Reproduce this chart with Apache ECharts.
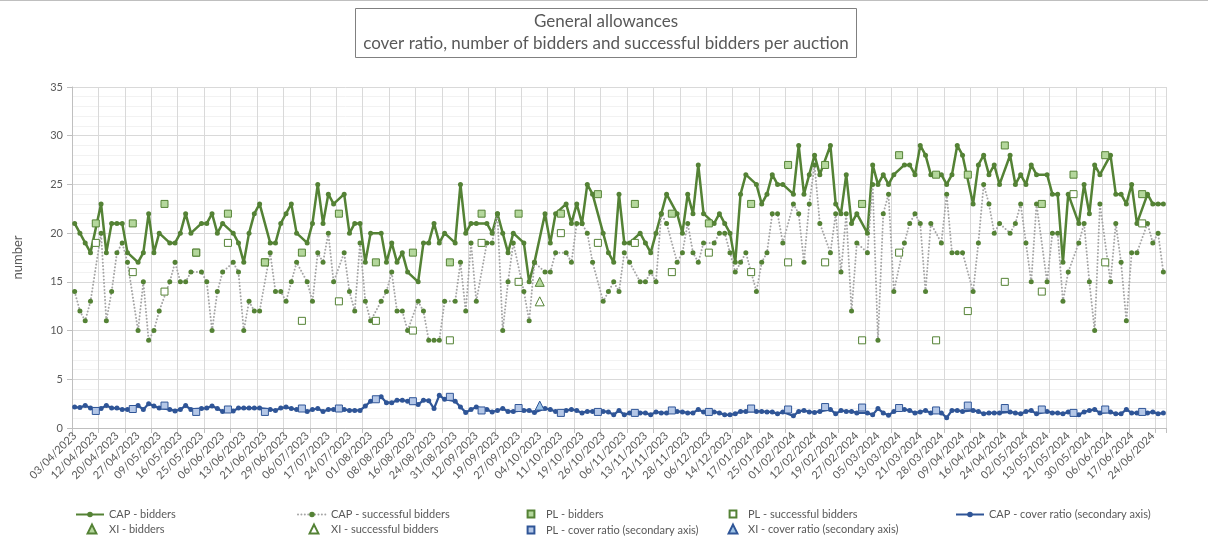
<!DOCTYPE html>
<html>
<head>
<meta charset="utf-8">
<title>General allowances</title>
<script src="https://cdn.jsdelivr.net/npm/echarts/dist/echarts.min.js"></script>
<style>
html, body { margin: 0; padding: 0; background: #fff; }
#chart { width: 1208px; height: 543px; }
</style>
</head>
<body>
<div id="chart"></div>
<script>
// x axis labels, one every 4th auction
const tickLabels = ['03/04/2023','12/04/2023','20/04/2023','27/04/2023','09/05/2023','16/05/2023','25/05/2023','06/06/2023','13/06/2023','21/06/2023',
  '29/06/2023','06/07/2023','17/07/2023','24/07/2023','01/08/2023','08/08/2023','16/08/2023','24/08/2023','31/08/2023','12/09/2023',
  '19/09/2023','27/09/2023','04/10/2023','11/10/2023','19/10/2023','26/10/2023','06/11/2023','13/11/2023','21/11/2023','28/11/2023',
  '06/12/2023','14/12/2023','17/01/2024','25/01/2024','01/02/2024','12/02/2024','19/02/2024','27/02/2024','05/03/2024','13/03/2024',
  '21/03/2024','28/03/2024','09/04/2024','16/04/2024','24/04/2024','02/05/2024','13/05/2024','21/05/2024','30/05/2024','06/06/2024',
  '17/06/2024','24/06/2024'];

// CAP auctions (null where the auction was a PL or XI one)
const capBidders = [
  21,20,19,18,null,23,18,21,21,21, 18,null,17,18,22,18,20,null,19,19,
  20,22,20,null,21,21,22,20,21,null, 20,19,17,20,22,23,null,19,19,21,
  22,23,20,null,19,21,25,21,24,23, null,24,20,21,21,17,20,null,20,17,
  19,17,18,16,null,15,19,19,21,19, 20,null,19,25,20,21,21,null,21,20,
  22,20,18,20,null,19,15,17,null,22, 19,22,null,23,21,23,21,25,24,null,
  20,18,17,24,19,19,null,20,19,18, 20,22,24,null,22,20,24,22,27,22,
  null,21,22,21,20,17,24,26,null,25, 23,24,26,25,25,null,24,29,24,26,
  28,26,null,29,23,22,26,21,22,null, 20,27,25,26,25,26,null,27,27,26,
  29,28,26,null,26,25,26,29,28,null, 23,27,28,26,27,25,null,28,25,26,
  25,27,26,null,26,24,24,17,24,null, 21,25,22,27,26,null,28,24,24,23,
  25,21,null,24,23,23,23];
const capSuccessful = [
  14,12,11,13,null,20,11,14,18,19, 17,null,10,15,9,10,12,null,15,17,
  15,15,16,null,16,15,10,14,16,null, 17,16,10,13,12,12,null,18,14,14,
  13,15,17,null,15,13,18,17,20,15, null,18,14,12,19,13,11,null,13,14,
  16,12,12,10,null,13,12,9,9,9, 13,null,13,17,12,19,13,null,19,19,
  22,10,15,19,null,14,11,17,null,16, 16,18,null,18,17,21,21,20,17,null,
  13,14,15,14,18,17,null,15,15,16, 15,22,21,null,17,18,21,18,17,19,
  null,19,20,20,18,16,17,18,null,14, 17,18,22,22,19,null,23,22,17,23,
  27,21,null,18,22,16,22,12,19,null, 18,25,9,22,24,14,null,19,21,22,
  21,14,21,null,19,24,18,18,18,null, 14,19,25,23,20,21,null,20,21,23,
  19,15,23,null,15,20,20,13,16,null, 19,21,15,10,23,null,15,21,17,11,
  18,18,null,21,19,20,16];
const capCover = [
  2.15,2.1,2.3,2.05,null,2.0,2.3,2.05,2.05,1.9, 1.9,null,2.3,1.9,2.5,2.25,2.05,null,1.9,1.75,
  1.9,2.3,1.9,null,2.0,2.05,2.25,2.0,1.7,null, 1.75,2.05,2.05,2.05,2.05,2.05,null,1.9,1.8,2.05,
  2.15,2.0,1.9,null,1.7,1.9,2.0,1.7,1.9,1.9, null,1.9,1.8,1.8,1.8,2.25,2.75,null,3.2,2.6,
  2.6,2.85,2.85,2.75,null,2.4,2.85,2.8,2.0,3.35, 2.95,null,2.75,2.15,1.6,1.9,2.15,null,1.9,1.65,
  1.8,2.0,1.7,1.7,null,1.8,1.8,1.6,null,2.0, 1.9,1.7,null,1.8,1.9,1.8,1.55,1.7,1.7,null,
  1.7,1.65,1.35,1.8,1.35,1.55,null,1.55,1.55,1.35, 1.65,1.55,1.55,null,1.7,1.65,1.55,1.55,1.9,1.65,
  null,1.65,1.55,1.35,1.35,1.45,1.7,1.7,null,1.7, 1.7,1.65,1.65,1.45,1.65,null,1.25,1.7,1.8,1.65,
  1.6,1.7,null,1.9,1.45,1.8,1.7,1.7,1.55,null, 1.55,1.35,2.0,1.55,1.3,1.7,null,1.9,1.8,1.55,
  1.65,1.8,1.55,null,1.55,1.05,1.8,1.8,1.7,null, 1.8,1.7,1.45,1.55,1.55,1.55,null,1.65,1.55,1.45,
  1.7,1.8,1.45,null,1.7,1.55,1.55,1.45,1.65,null, 1.35,1.65,1.8,1.9,1.55,null,1.65,1.45,1.45,1.9,
  1.55,1.55,null,1.55,1.65,1.45,1.55];

// PL auctions: position in the auction sequence and values
const plSlots = [4,11,17,23,29,36,43,50,57,64,71,77,84,92,99,106,113,120,128,135,142,149,156,163,169,176,183,189,195,202];
const plBidders = [21,21,23,18,22,17,18,22,17,18,17,22,22,22,24,23,22,21,23,27,27,23,28,26,26,29,23,26,28,24];
const plSuccessful = [19,16,14,18,19,17,11,13,11,10,9,19,15,20,19,19,16,18,16,17,17,9,18,9,12,15,14,24,17,21];
const plCover = [1.75,1.95,2.3,1.65,1.9,1.65,2.0,2.0,2.95,2.75,3.2,1.8,2.05,1.55,1.65,1.55,1.8,1.65,2.0,1.9,2.15,2.1,2.05,1.8,2.3,2.05,1.9,1.55,1.9,1.65];

// XI auctions
const xiSlots = [88];
const xiBidders = [15];
const xiSuccessful = [13];
const xiCover = [2.3];

const N = capBidders.length;
const categories = capBidders.map((v, i) => i % 4 === 0 ? tickLabels[i / 4] : 'auction ' + (i + 1));

function spread(slots, values) {
    let out = new Array(N).fill(null);
    slots.forEach((s, k) => { out[s] = values[k]; });
    return out;
}

const GREEN = '#548235';
const BLUE = '#2F5597';
const TXT = '#595959';
const FONT = 'Lato';

function markerSeries(name, data, symbol, size, fill, border, axis) {
    return {
        name: name,
        type: 'line',
        yAxisIndex: axis,
        data: data,
        symbol: symbol,
        symbolSize: size,
        showAllSymbol: true,
        connectNulls: false,
        lineStyle: { opacity: 0 },
        itemStyle: { color: fill, borderColor: border, borderWidth: 1 },
        z: 4
    };
}

function legendAt(name, left, top, w, h) {
    return {
        data: [name],
        left: left,
        top: top,
        itemWidth: w,
        itemHeight: h,
        padding: 0,
        selectedMode: false,
        textStyle: { color: TXT, fontSize: 11, fontFamily: FONT }
    };
}

let chart = echarts.init(document.getElementById('chart'), null, { renderer: 'canvas' });

const option = {
    animation: false,
    backgroundColor: '#fff',
    title: {
        text: 'General allowances\ncover ratio, number of bidders and successful bidders per auction',
        left: 598,
        top: 8,
        textAlign: 'center',
        padding: [3, 8, 3, 8],
        borderColor: '#808080',
        borderWidth: 1,
        textStyle: { color: TXT, fontSize: 17, fontWeight: 'normal', fontFamily: FONT, lineHeight: 22 }
    },
    graphic: [{
        type: 'line',
        shape: { x1: 0, y1: 0.5, x2: 1208, y2: 0.5 },
        style: { stroke: '#bfbfbf', lineWidth: 1 }
    }],
    legend: [
        legendAt('CAP - bidders', 75, 509, 28, 7),
        legendAt('CAP - successful bidders', 297, 509, 28, 7),
        legendAt('PL - bidders', 520, 508.5, 20, 8.5),
        legendAt('PL - successful bidders', 722, 508.5, 20, 8.5),
        legendAt('CAP - cover ratio (secondary axis)', 955, 509, 28, 7),
        legendAt('XI - bidders', 79, 523.5, 24, 11),
        legendAt('XI - successful bidders', 301, 523.5, 24, 11),
        legendAt('PL - cover ratio (secondary axis)', 520, 524.5, 20, 8.5),
        legendAt('XI - cover ratio (secondary axis)', 722, 523.5, 20, 11)
    ],
    grid: { left: 72, right: 42, top: 87, bottom: 115, outerBoundsMode: 'none' },
    xAxis: {
        type: 'category',
        data: categories,
        boundaryGap: true,
        axisLine: { lineStyle: { color: '#bfbfbf' } },
        axisTick: { show: true, interval: 4, length: 5, lineStyle: { color: '#bfbfbf' } },
        splitLine: { show: true, interval: 4, lineStyle: { color: '#d9d9d9', width: 1 } },
        axisLabel: { interval: 3, rotate: 45, color: TXT, fontSize: 11, fontFamily: FONT, margin: 6 }
    },
    yAxis: [{
        type: 'value',
        min: 0,
        max: 35,
        interval: 5,
        name: 'number',
        nameLocation: 'middle',
        nameGap: 48,
        nameTextStyle: { color: TXT, fontSize: 13, fontFamily: FONT },
        axisLine: { show: true, lineStyle: { color: '#bfbfbf' } },
        axisTick: { show: true, length: 5, lineStyle: { color: '#bfbfbf' } },
        axisLabel: { color: TXT, fontSize: 11, fontFamily: FONT, margin: 9 },
        splitLine: { lineStyle: { color: '#d9d9d9' } },
        minorTick: { show: false, splitNumber: 5 },
        minorSplitLine: { show: true, lineStyle: { color: '#f2f2f2' } }
    }, {
        type: 'value',
        min: 0,
        max: 35,
        show: false,
        splitLine: { show: false }
    }],
    series: [
        {
            name: 'CAP - bidders',
            type: 'line',
            data: capBidders,
            connectNulls: true,
            symbol: 'circle',
            symbolSize: 5,
            showAllSymbol: true,
            lineStyle: { color: GREEN, width: 2.5 },
            itemStyle: { color: GREEN },
            z: 3
        },
        {
            name: 'CAP - successful bidders',
            type: 'line',
            data: capSuccessful,
            connectNulls: true,
            symbol: 'circle',
            symbolSize: 5,
            showAllSymbol: true,
            lineStyle: { color: '#a5a5a5', width: 2, type: [0.01, 3.4], cap: 'round' },
            itemStyle: { color: GREEN },
            z: 3
        },
        markerSeries('PL - successful bidders', spread(plSlots, plSuccessful), 'rect', 7, '#ffffff', GREEN, 0),
        markerSeries('PL - bidders', spread(plSlots, plBidders), 'rect', 7, '#b4d79c', GREEN, 0),
        markerSeries('XI - bidders', spread(xiSlots, xiBidders), 'triangle', 9, '#b4d79c', GREEN, 0),
        markerSeries('XI - successful bidders', spread(xiSlots, xiSuccessful), 'triangle', 9, '#ffffff', GREEN, 0),
        {
            name: 'CAP - cover ratio (secondary axis)',
            type: 'line',
            yAxisIndex: 1,
            data: capCover,
            connectNulls: true,
            symbol: 'circle',
            symbolSize: 5,
            showAllSymbol: true,
            lineStyle: { color: BLUE, width: 2.25 },
            itemStyle: { color: BLUE },
            z: 5
        },
        markerSeries('PL - cover ratio (secondary axis)', spread(plSlots, plCover), 'rect', 7, '#b4c7e7', BLUE, 1),
        markerSeries('XI - cover ratio (secondary axis)', spread(xiSlots, xiCover), 'triangle', 9, '#9dc3e6', BLUE, 1)
    ]
};
option.series[7].z = 6;
option.series[8].z = 6;

chart.setOption(option);
</script>
</body>
</html>
